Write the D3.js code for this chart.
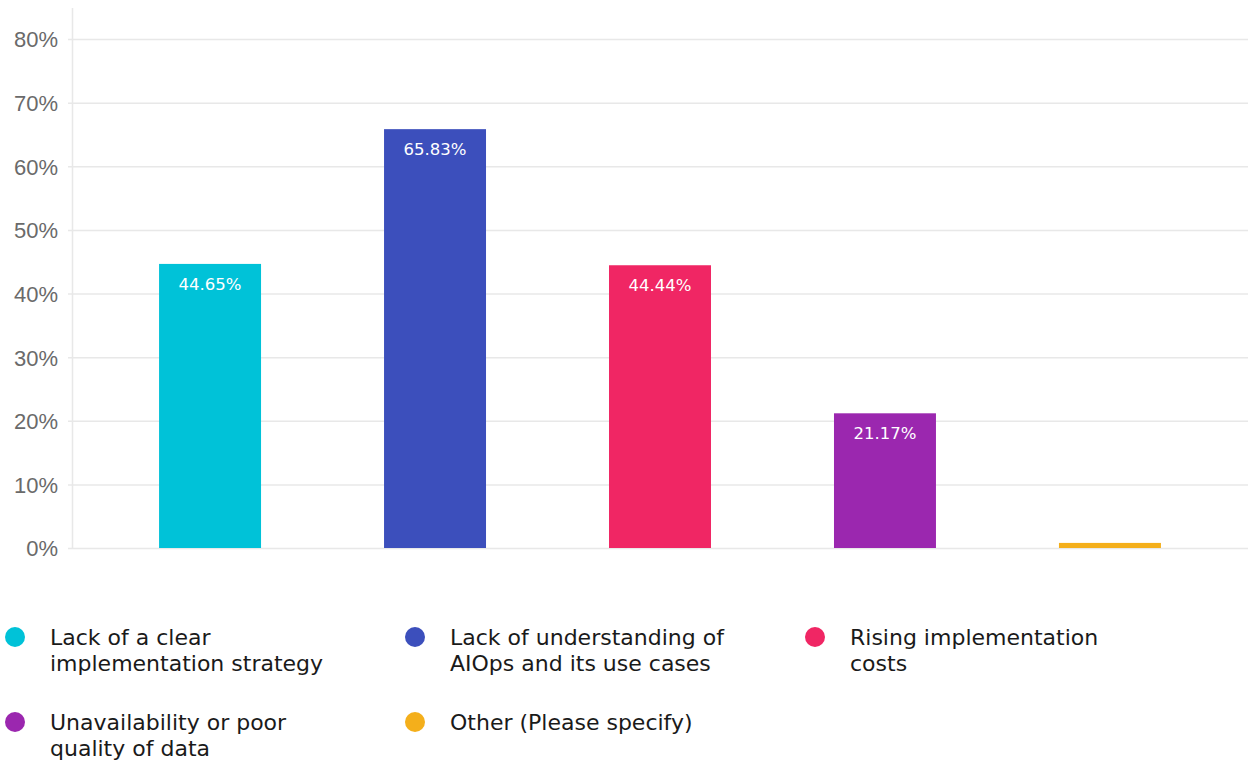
<!DOCTYPE html>
<html>
<head>
<meta charset="utf-8">
<script src="https://cdn.jsdelivr.net/npm/d3@7"></script>
<style>
  html, body { margin: 0; padding: 0; background: #fff; }
  svg { display: block; font-family: "DejaVu Sans", Verdana, sans-serif; }
</style>
</head>
<body>
<svg id="chart" width="1250" height="763"></svg>
<script>
// Challenges in adopting AIOps: share of respondents per answer
const categories = [
  "Lack of a clear implementation strategy",
  "Lack of understanding of AIOps and its use cases",
  "Rising implementation costs",
  "Unavailability or poor quality of data",
  "Other (Please specify)"
];
const values = [44.65, 65.83, 44.44, 21.17, 0.8];
const valueLabels = ["44.65%", "65.83%", "44.44%", "21.17%", ""];
const colors = ["#00C2D8", "#3C4FBC", "#F02664", "#9B27AF", "#F4AF1B"];
const legendLines = [
  ["Lack of a clear", "implementation strategy"],
  ["Lack of understanding of", "AIOps and its use cases"],
  ["Rising implementation", "costs"],
  ["Unavailability or poor", "quality of data"],
  ["Other (Please specify)"]
];
const yTicks = [0, 10, 20, 30, 40, 50, 60, 70, 80];

const svg = d3.select("#chart");
const plot = { left: 72, right: 1248, top: 39, bottom: 548 };

const x = d3.scaleBand()
  .domain(categories)
  .range([plot.left, plot.right])
  .paddingInner(0.5467)
  .paddingOuter(0.387);

const y = d3.scaleLinear()
  .domain([0, 80])
  .range([plot.bottom, plot.top]);

// gridlines and tick labels
const yAxis = d3.axisLeft(y)
  .tickValues(yTicks)
  .tickFormat(d => d + "%")
  .tickSize(-(plot.right - plot.left) - 4)
  .tickPadding(10);

const gy = svg.append("g")
  .attr("transform", `translate(${plot.left - 4},0)`)
  .call(yAxis);
gy.select(".domain").remove();
gy.selectAll(".tick line")
  .attr("stroke", "#e8e8e8")
  .attr("stroke-width", 1.5);
gy.selectAll(".tick text")
  .attr("fill", "#6a6a6a")
  .attr("font-size", 22)
  .attr("dy", "0.36em");

// vertical axis line
svg.append("line")
  .attr("x1", plot.left + 0.5).attr("x2", plot.left + 0.5)
  .attr("y1", 8).attr("y2", plot.bottom)
  .attr("stroke", "#e8e8e8")
  .attr("stroke-width", 1.5);

// bars
svg.append("g").selectAll("rect")
  .data(categories)
  .join("rect")
  .attr("x", d => x(d))
  .attr("width", x.bandwidth())
  .attr("y", (d, i) => y(values[i]))
  .attr("height", (d, i) => y(0) - y(values[i]))
  .attr("fill", (d, i) => colors[i]);

// value labels inside bar tops
svg.append("g").selectAll("text")
  .data(categories)
  .join("text")
  .attr("x", d => x(d) + x.bandwidth() / 2)
  .attr("y", (d, i) => y(values[i]) + 26)
  .attr("text-anchor", "middle")
  .attr("fill", "#fff")
  .attr("font-size", 16.5)
  .text((d, i) => valueLabels[i]);

// legend
const legendCols = 3;
const legend = svg.append("g");
const items = legend.selectAll("g")
  .data(categories)
  .join("g")
  .attr("transform", (d, i) => {
    const col = i % legendCols, row = Math.floor(i / legendCols);
    return `translate(${15 + col * 400},${637 + row * 85})`;
  });
items.append("circle")
  .attr("r", 10)
  .attr("fill", (d, i) => colors[i]);
items.append("text")
  .attr("x", 35)
  .attr("y", 8)
  .attr("font-size", 22)
  .attr("fill", "#1a1a1a")
  .selectAll("tspan")
  .data((d, i) => legendLines[i])
  .join("tspan")
  .attr("x", 35)
  .attr("dy", (d, j) => j === 0 ? 0 : 25.5)
  .text(d => d);
</script>
</body>
</html>
